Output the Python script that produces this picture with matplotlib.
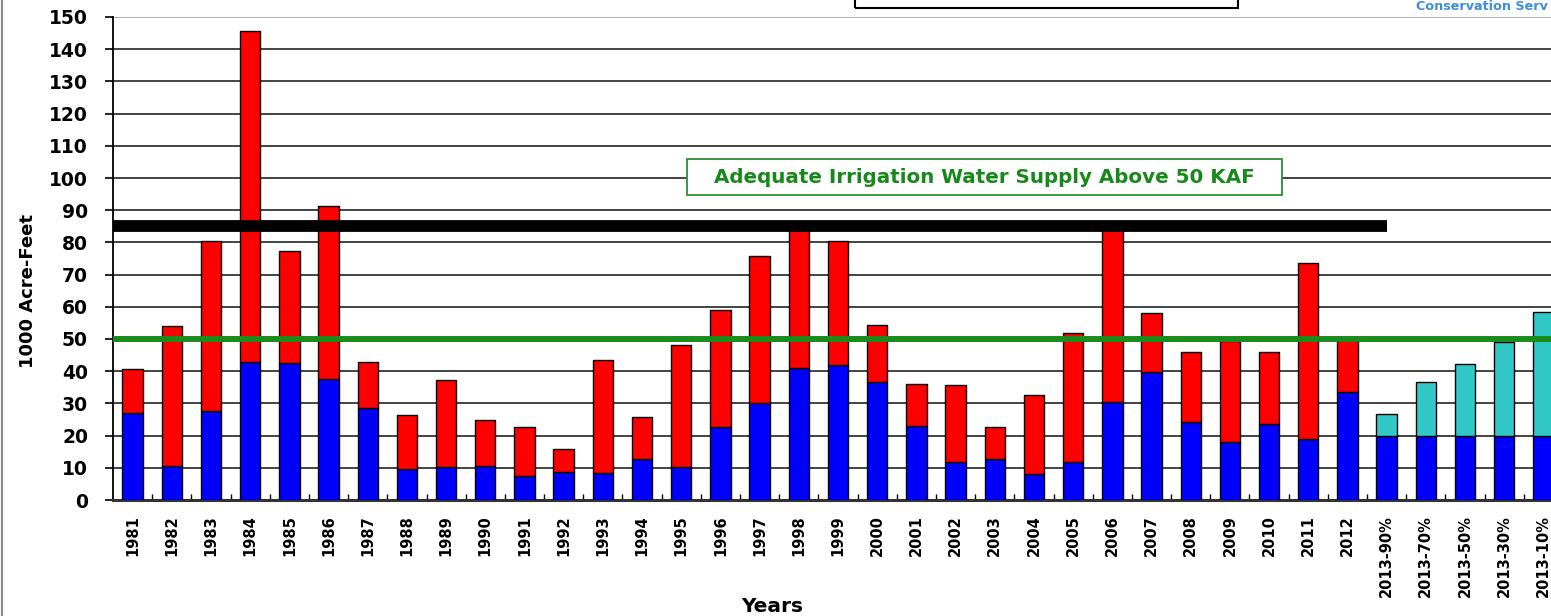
import numpy as np
import matplotlib
matplotlib.use("Agg")
import matplotlib.pyplot as plt
from matplotlib.patches import Rectangle
from matplotlib.lines import Line2D

# ============================================================
# DATA — RUNOFF VOLUMES (1000 ACRE-FEET)
# ============================================================
years = [str(y) for y in range(1981, 2013)] + [
    "2013-90%", "2013-70%", "2013-50%", "2013-30%", "2013-10%"]

# lower (blue) segment of each bar
base_flow = [27, 10.7, 27.5, 43, 42.7, 37.7, 28.5, 9.6, 10.4, 10.7,
             7.6, 8.8, 8.3, 12.8, 10.4, 22.8, 30.1, 41, 41.8, 36.6,
             23.1, 11.7, 12.7, 8.1, 11.7, 30.4, 39.7, 24.2, 18, 23.7,
             19, 33.5,
             20, 20, 20, 20, 20]

# full bar height (top of red / cyan segment)
total_flow = [40.8, 54, 80.4, 145.5, 77.3, 91.3, 43, 26.4, 37.3, 24.7,
              22.7, 15.9, 43.6, 25.9, 48.1, 59.1, 75.7, 85, 80.4, 54.5,
              36.1, 35.6, 22.6, 32.5, 51.8, 85, 58, 46.1, 49.3, 46.1,
              73.6, 50.6,
              26.8, 36.6, 42.3, 49, 58.4]

ADEQUATE_KAF = 50
BLACK_LINE_KAF = 85
BLACK_LINE_END = 32  # runs through the 2012 bar

upper_flow = [t - b for t, b in zip(total_flow, base_flow)]
upper_colors = ["#33c8c8" if y.startswith("2013-") else "#ff0000" for y in years]

# ============================================================
# FIGURE LAYOUT
# ============================================================
W, H = 1551, 616
fig = plt.figure(figsize=(W / 100, H / 100), dpi=100)
fig.patch.set_facecolor("white")
ax = fig.add_axes([113 / W, 116 / H, 1450 / W, 483 / H])

x = np.arange(len(years))
ax.bar(x, base_flow, width=0.52, color="#0000ff", edgecolor="black",
       linewidth=1.0, zorder=3)
ax.bar(x, upper_flow, bottom=base_flow, width=0.52, color=upper_colors,
       edgecolor="black", linewidth=1.0, zorder=3)

# reference lines drawn over the bars
ax.axhline(ADEQUATE_KAF, color="#1a8c1a", linewidth=4.3, zorder=5)
ax.plot([-0.5, BLACK_LINE_END], [BLACK_LINE_KAF, BLACK_LINE_KAF], color="black",
        linewidth=8.5, solid_capstyle="butt", zorder=5, clip_on=False)

# annotation box
ax.add_patch(Rectangle((14.14, 94.6), 15.18, 11.2, facecolor="white",
                       edgecolor="#2d8f2d", linewidth=1.3, zorder=4))
ax.text(21.73, 100.3, "Adequate Irrigation Water Supply Above 50 KAF",
        ha="center", va="center", color="#17891a", fontsize=14.3,
        fontweight="bold", zorder=6)

# ============================================================
# AXES STYLING
# ============================================================
ax.set_xlim(-0.5, len(years) - 0.5)
ax.set_ylim(0, 150)
ax.set_yticks(range(0, 151, 10))
ax.yaxis.grid(True, color="#111111", linewidth=1.1)
ax.set_axisbelow(True)
ax.get_ygridlines()[-1].set_color("#999999")

ax.set_xticks(x)
ax.set_xticklabels(years, rotation=90, fontsize=10.5, fontweight="bold")
ax.set_xticks(x[:-1] + 0.5, minor=True)
ax.tick_params(axis="x", which="major", length=0, pad=11)
ax.tick_params(axis="x", which="minor", direction="in", length=4, width=1)
ax.tick_params(axis="y", length=6, width=1.2, pad=12, labelsize=13.5)
for lbl in ax.get_yticklabels():
    lbl.set_fontweight("bold")

for side in ("top", "right"):
    ax.spines[side].set_visible(False)
ax.spines["left"].set_linewidth(1.3)
ax.spines["bottom"].set_linewidth(2.2)
ax.spines["bottom"].set_color("#333333")

fig.text(28 / W, 325 / H, "1000 Acre-Feet", rotation=90, ha="center",
         va="center", fontsize=13, fontweight="bold")
fig.text(772 / W, 10 / H, "Years", ha="center", va="center",
         fontsize=14.5, fontweight="bold")

# page furniture around the chart
fig.add_artist(Line2D([2 / W, 2 / W], [0, 1], color="#8a8a8a", linewidth=1.5,
                      transform=fig.transFigure))
fig.add_artist(Rectangle((855 / W, 608 / H), (1238 - 855) / W, 0.05,
                         transform=fig.transFigure, fill=False,
                         edgecolor="black", linewidth=1.5))
fig.text(1548 / W, 610 / H, "Conservation Serv", color="#3d8fd6",
         fontsize=9.2, fontweight="bold", ha="right", va="center")

fig.savefig("out.png", dpi=100)
